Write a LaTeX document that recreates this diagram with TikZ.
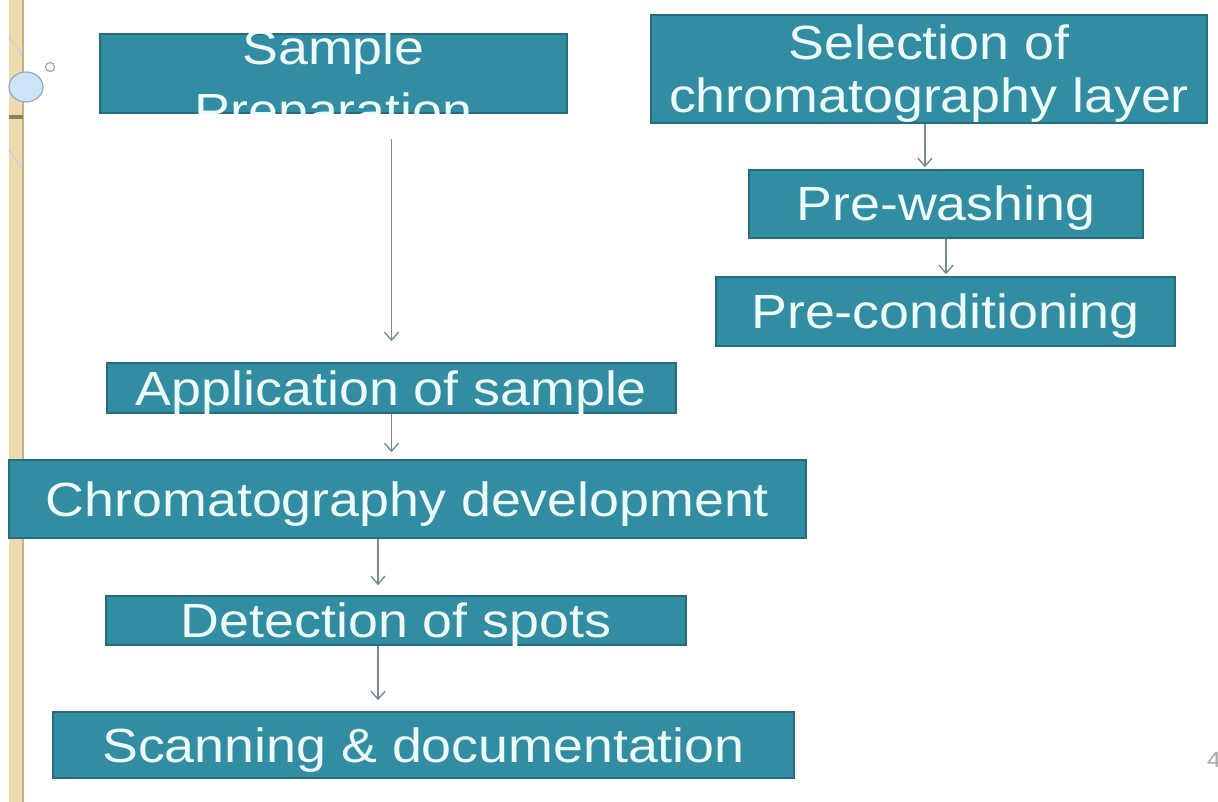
\documentclass[tikz,border=0pt]{standalone}
\usepackage{fontspec}
\setmainfont[FakeStretch=1.12]{Liberation Sans}
\usetikzlibrary{positioning,calc,arrows.meta}
\definecolor{boxfill}{RGB}{50,140,162}
\definecolor{boxedge}{RGB}{36,108,128}
\definecolor{boxtext}{RGB}{236,252,252}
\definecolor{flowgray}{RGB}{118,140,148}
\definecolor{stripbeige}{RGB}{238,218,172}
\definecolor{stripedge}{RGB}{196,178,140}
\definecolor{bubble}{RGB}{205,228,246}
\definecolor{bubbleedge}{RGB}{150,172,182}

\begin{document}
\begin{tikzpicture}[x=1pt,y=-1pt,
  stepbox/.style={rectangle, fill=boxfill, draw=boxedge, line width=1.5pt, text=boxtext,
    font=\fontsize{48}{53}\selectfont, inner sep=0pt, text height=34pt, text depth=0pt},
  steptext/.style={text=boxtext, font=\fontsize{48}{53}\selectfont, inner sep=0pt},
  flow/.style={draw=flowgray, line width=1.4pt, -{Straight Barb[length=8pt,width=14pt]}}]
\useasboundingbox (0,0) rectangle (1218,802);
\fill[white] (0,0) rectangle (1218,802);

% slide border
\fill[stripbeige] (9,0) rectangle (24,802);
\draw[stripedge, line width=2pt] (23,0) -- (23,802);
\draw[gray!35, line width=1.5pt] (9,38) .. controls (15,44) .. (22,56);
\draw[gray!35, line width=1.5pt] (9,150) .. controls (15,158) .. (22,168);
\fill[stripedge!70!black] (9,115) rectangle (23,119);
\draw[bubbleedge, fill=bubble, line width=1.2pt] (26,87) ellipse (17 and 15);
\draw[gray!70, fill=white, line width=1.2pt] (50,67) circle (4.5);

% left column
\node[stepbox, minimum width=467pt, minimum height=79pt] (prep) at (333.5,73.5) {};
\begin{scope}
  \clip (prep.south west) rectangle (prep.north east);
  \node[steptext, anchor=base] (preptop) at (333.5,65) {Sample};
  \node[steptext, anchor=base] (prepbot) at (333.5,128) {Preparation};
\end{scope}
\node[stepbox, minimum width=569pt, minimum height=50pt] (app) at (391.5,388) {Application of sample};
\node[stepbox, minimum width=797pt, minimum height=78pt] (chrom) at (407.5,499) {Chromatography development};
\node[stepbox, minimum width=580pt, minimum height=49pt] (det) at (396,620.5) {Detection of spots};
\node[stepbox, minimum width=741pt, minimum height=66pt] (scan) at (423.5,745) {Scanning \& documentation};

% right column
\node[stepbox, minimum width=556pt, minimum height=108pt, align=center, text height=87pt] (sel) at (929,69) {Selection of\\chromatography layer};
\node[stepbox, minimum width=394pt, minimum height=68pt] (wash) at (946,204) {Pre-washing};
\node[stepbox, minimum width=459pt, minimum height=69pt] (cond) at (945.5,311.5) {Pre-conditioning};

% connectors
\draw[flow, shorten >=2pt] ([xshift=-4pt]sel.south) -- ([xshift=-4pt]sel.south |- wash.north);
\draw[flow, shorten >=2pt] (wash.south) -- (wash.south |- cond.north);
\draw[flow, shorten <=25pt, shorten >=21pt] (prep.south -| app.north) -- (app.north);
\draw[flow, shorten >=7pt] (app.south) -- (app.south |- chrom.north);
\draw[flow, shorten >=10pt] ([xshift=-18pt]det.north |- chrom.south) -- ([xshift=-18pt]det.north);
\draw[flow, shorten >=11pt] ([xshift=-18pt]det.south) -- ([xshift=-18pt]det.south |- scan.north);

\node[text=gray!70, font=\fontsize{22}{24}\selectfont] (pageno) at (1214,760) {4};
\end{tikzpicture}
\end{document}
